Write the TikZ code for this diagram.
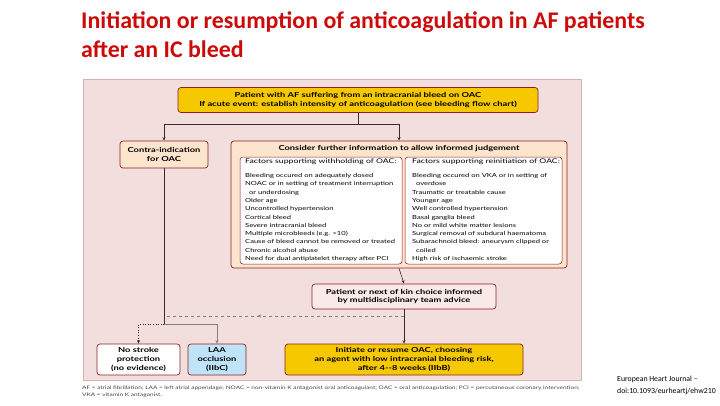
\documentclass[tikz,border=0pt]{standalone}
\usepackage{fontspec}
\setmainfont{Carlito}
\newfontfamily\boxfont[FakeStretch=1.35]{Lato}
\usetikzlibrary{arrows.meta,positioning,decorations.markings}
\definecolor{TitleRed}{HTML}{CC0A0A}
\definecolor{PanelPink}{HTML}{F2DFDD}
\definecolor{PanelRule}{HTML}{D6B3B1}
\definecolor{GoldFill}{HTML}{F5C800}
\definecolor{PeachFill}{HTML}{FDE4CC}
\definecolor{KinFill}{HTML}{F9EAE8}
\definecolor{LaaBlue}{HTML}{BFE4F7}
\definecolor{EdgeRed}{HTML}{8E1F25}
\definecolor{LineDark}{HTML}{3B2B2B}
\definecolor{NoteGray}{HTML}{444444}

\begin{document}
\begin{tikzpicture}[x=1pt,y=-1pt,
    bx/.style={rectangle,draw=EdgeRed,line width=0.7pt,rounded corners=3pt,
               align=center,inner sep=1pt,
               font=\boxfont\bfseries\fontsize{6.9}{8.6}\selectfont,fill=#1},
    inbx/.style={rectangle,draw=EdgeRed,line width=0.5pt,rounded corners=3pt,
                 fill=white,minimum height=107pt,inner sep=0pt},
    lst/.style={anchor=north west,align=left,inner sep=0pt,
                font=\boxfont\fontsize{5.6}{8.3}\selectfont},
    ttl/.style={anchor=base west,inner sep=0pt,text=TitleRed,
                font=\bfseries\fontsize{23.9}{29}\selectfont},
    ar/.style={-{Stealth[length=3.5pt,width=3pt]},line width=0.6pt,LineDark}]
\useasboundingbox (0,0) rectangle (720,405);
% title
\node[ttl] (ttl1) at (81,28) {Initiation or resumption of anticoagulation in AF patients};
\node[ttl] (ttl2) at (81,57) {after an IC bleed};
% panel
\node[draw=PanelRule,fill=PanelPink,minimum width=498pt,minimum height=301pt,
      inner sep=0pt] (panel) at (332,229.5) {};
% boxes
\node[bx=GoldFill,minimum width=360pt,minimum height=25pt] (pat) at (358,100)
  {Patient with AF suffering from an intracranial bleed on OAC\\
   If acute event: establish intensity of anticoagulation (see bleeding flow chart)};
\node[bx=PeachFill,minimum width=88pt,minimum height=27pt] (contra) at (164,154.5)
  {Contra-indication\\for OAC};
\node[bx=PeachFill,minimum width=336pt,minimum height=127pt] (cons) at (399,204.5) {};
\node[font=\boxfont\bfseries\fontsize{6.9}{8.6}\selectfont,inner sep=0pt] (constt)
  at (399,149) {Consider further information to allow informed judgement};
\node[inbx,minimum width=162pt] (wbox) at (321,210.5) {};
\node[inbx,minimum width=157pt] (rbox) at (483.5,210.5) {};
\node[lst] (wlist) at (245,158.5)
  {{\fontsize{6.45}{8.3}\selectfont Factors supporting withholding of OAC:}\\[5.8pt]
   Bleeding occured on adequately dosed\\
   NOAC or in setting of treatment interruption\\
   \ \ or underdosing\\
   Older age\\
   Uncontrolled hypertension\\
   Cortical bleed\\
   Severe intracranial bleed\\
   Multiple microbleeds (e.g. >10)\\
   Cause of bleed cannot be removed or treated\\
   Chronic alcohol abuse\\
   Need for dual antiplatelet therapy after PCI};
\node[lst] (rlist) at (412,158.5)
  {{\fontsize{6.45}{8.3}\selectfont Factors supporting reinitiation of OAC:}\\[5.8pt]
   Bleeding occured on VKA or in setting of\\
   \ \ overdose\\
   Traumatic or treatable cause\\
   Younger age\\
   Well controlled hypertension\\
   Basal ganglia bleed\\
   No or mild white matter lesions\\
   Surgical removal of subdural haematoma\\
   Subarachnoid bleed: aneurysm clipped or\\
   \ \ coiled\\
   High risk of ischaemic stroke};
\node[bx=KinFill,minimum width=184pt,minimum height=25pt] (kin) at (404,296.5)
  {Patient or next of kin choice informed\\by multidisciplinary team advice};
\node[bx=white,minimum width=83pt,minimum height=31pt] (nostr) at (138.5,359.5)
  {No stroke\\protection\\(no evidence)};
\node[bx=LaaBlue,minimum width=58pt,minimum height=31pt] (laa) at (217,359.5)
  {LAA\\occlusion\\(IIbC)};
\node[bx=GoldFill,minimum width=238pt,minimum height=31pt] (init) at (404,359.5)
  {Initiate or resume OAC, choosing\\
   an agent with low intracranial bleeding risk,\\
   after 4--8 weeks (IIbB)};
% connectors
\coordinate (jt) at (358,124);
\coordinate (jl) at (164,324);
\coordinate (jm) at (404,316);
\coordinate (jc) at (164,316);
\draw[line width=0.6pt,LineDark] (pat.south) -- (jt);
\draw[ar] (jt) -| (contra.north);
\draw[ar] (jt) -| (cons.north);
\draw[line width=0.6pt,LineDark] (contra.south) -- (jl);
\draw[ar,dotted] (jl) -| (nostr.north);
\draw[ar,line width=0.4pt,gray] (jl) -| (laa.north);
\draw[ar] (cons.south) -- (kin.north);
\draw[ar] (kin.south) -- (init.north);
\draw[dashed,line width=0.4pt,gray,
      postaction={decorate,decoration={markings,
        mark=at position 0.61 with {\arrow{Stealth[length=3.5pt,width=3pt]}}}}]
  (jm) -- (jc);
% footnote
\node[anchor=north west,align=left,inner sep=0pt,text=NoteGray,
      font=\boxfont\fontsize{4.8}{6.6}\selectfont] (note) at (82,386)
  {AF = atrial fibrillation; LAA = left atrial appendage; NOAC = non-vitamin K antagonist oral anticoagulant; OAC = oral anticoagulation; PCI = percutaneous coronary intervention;\\
   VKA = vitamin K antagonist.};
\node[anchor=north west,align=left,inner sep=0pt,
      font=\fontsize{7.8}{12}\selectfont] (src) at (617,376)
  {European Heart Journal --\\doi:10.1093/eurheartj/ehw210};
\end{tikzpicture}
\end{document}
